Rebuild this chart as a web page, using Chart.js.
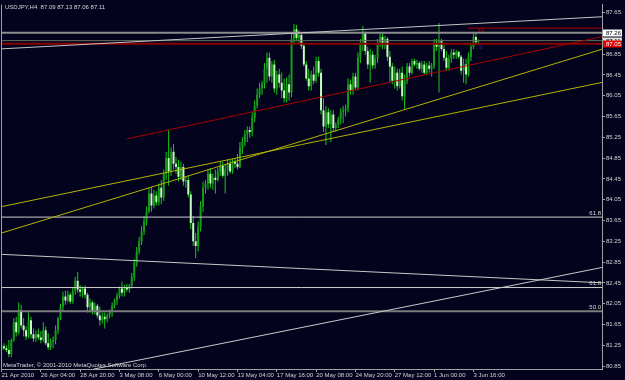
<!DOCTYPE html>
<html>
<head>
<meta charset="utf-8">
<script src="https://cdn.jsdelivr.net/npm/chart.js@4.4.1/dist/chart.umd.min.js"></script>
<style>
  html, body { margin: 0; padding: 0; background: #03031e; }
  #wrap { width: 625px; height: 380px; }
</style>
</head>
<body>
<div id="wrap"><canvas id="myChart" width="625" height="380"></canvas></div>
<script>
// USDJPY H4, bar 0 = 21 Apr 2010
const opens = [81.17,81.23,81.19,81.16,81.08,81.35,81.69,81.50,81.92,81.63,
  81.54,81.42,81.73,81.46,81.38,81.46,81.40,81.35,81.54,81.29,
  81.21,81.31,81.35,81.54,81.77,81.99,82.19,82.11,82.22,82.09,
  82.30,82.49,82.32,82.28,82.34,82.22,81.98,82.07,81.92,82.01,
  81.82,81.73,81.80,81.75,81.82,81.88,82.01,82.11,82.20,82.34,
  82.26,82.36,82.32,82.40,82.57,82.83,83.06,83.25,83.44,83.63,
  83.82,84.17,83.94,84.13,84.00,84.28,84.09,84.55,84.85,84.59,
  84.97,84.74,84.68,84.49,84.68,84.40,84.43,84.15,83.60,83.25,
  83.16,83.52,83.92,84.28,84.36,84.55,84.36,84.47,84.43,84.59,
  84.70,84.51,84.63,84.74,84.59,84.78,84.74,84.68,85.06,85.16,
  85.31,85.39,85.35,85.62,85.86,86.07,86.19,86.27,86.57,86.78,
  86.42,86.65,86.19,86.46,86.30,86.15,86.00,86.27,86.11,87.14,
  87.33,87.16,87.22,87.01,86.65,86.38,86.23,86.46,86.34,86.72,
  86.49,85.77,85.46,85.73,85.50,85.69,85.43,85.48,85.60,85.73,
  85.77,85.81,86.27,86.15,86.42,86.21,86.78,87.07,87.26,86.91,
  86.65,86.84,86.63,86.76,87.07,87.18,87.03,87.14,86.80,86.61,
  86.34,86.49,86.23,86.49,86.04,86.34,86.61,86.49,86.72,86.65,
  86.68,86.57,86.65,86.49,86.63,86.57,86.61,87.07,86.99,87.10,
  86.95,86.78,86.59,86.76,86.88,86.84,86.89,86.80,86.53,86.65,
  86.46,86.80,86.99,87.18,87.09];
const highs = [81.27,81.29,81.25,81.35,81.38,81.77,81.80,82.07,82.03,81.77,
  81.61,81.88,81.80,81.57,81.54,81.57,81.52,81.69,81.61,81.48,
  81.38,81.42,81.63,81.80,82.05,82.28,82.30,82.30,82.26,82.36,
  82.57,82.66,82.41,82.38,82.40,82.26,82.15,82.11,82.07,82.05,
  81.99,81.88,81.88,81.86,81.94,82.07,82.15,82.26,82.38,82.47,
  82.41,82.43,82.43,82.64,82.91,83.14,83.33,83.54,83.73,83.92,
  84.28,84.30,84.24,84.21,84.36,84.43,84.63,84.97,85.39,85.06,
  85.12,84.87,84.82,84.78,84.74,84.49,84.51,84.21,83.73,83.41,
  83.63,84.02,84.40,84.43,84.63,84.66,84.55,84.63,84.66,84.78,
  84.78,84.74,84.82,84.82,84.84,84.85,84.93,85.16,85.25,85.39,
  85.46,85.46,85.73,85.96,86.19,86.30,86.34,86.68,86.88,86.88,
  86.72,86.74,86.53,86.57,86.49,86.38,86.40,86.46,87.26,87.43,
  87.41,87.31,87.26,87.07,86.72,86.57,86.53,86.61,86.80,86.80,
  86.57,86.00,85.85,85.81,85.77,85.77,85.54,85.65,85.81,85.85,
  85.88,86.38,86.36,86.49,86.49,86.88,87.14,87.39,87.29,86.99,
  86.95,86.91,86.84,87.14,87.26,87.26,87.20,87.18,86.91,86.68,
  86.61,86.57,86.57,86.61,86.46,86.68,86.68,86.76,86.76,86.74,
  86.72,86.72,86.72,86.68,86.72,86.68,87.14,87.14,87.45,87.14,
  87.03,86.91,86.84,86.95,86.95,86.93,86.91,86.84,86.76,86.76,
  86.88,87.07,87.26,87.26,87.13];
const lows = [81.12,81.16,81.12,81.02,81.02,81.31,81.42,81.46,81.57,81.42,
  81.35,81.38,81.38,81.31,81.31,81.35,81.29,81.31,81.25,81.16,
  81.16,81.19,81.27,81.46,81.73,81.92,82.03,82.07,82.05,82.05,
  82.22,82.26,82.19,82.17,82.15,81.88,81.88,81.84,81.84,81.77,
  81.63,81.67,81.57,81.69,81.77,81.80,81.96,82.03,82.15,82.19,
  82.19,82.28,82.26,82.34,82.49,82.76,83.00,83.18,83.37,83.56,
  83.79,83.82,83.88,83.94,83.94,83.96,84.03,84.43,84.32,84.51,
  84.63,84.55,84.40,84.43,84.32,84.28,84.09,83.48,83.16,82.93,
  83.06,83.44,83.82,84.17,84.24,84.28,84.24,84.17,84.40,84.51,
  84.47,84.17,84.51,84.55,84.55,84.66,84.63,84.66,84.93,85.08,
  85.16,85.24,85.27,85.54,85.81,86.00,86.07,86.19,86.30,86.34,
  86.30,86.11,86.07,86.21,86.00,85.92,85.92,85.96,86.02,87.03,
  87.10,87.07,86.95,86.61,86.34,86.15,86.15,86.27,86.30,86.42,
  85.69,85.35,85.10,85.43,85.16,85.35,85.35,85.43,85.50,85.52,
  85.65,85.73,86.07,86.07,86.15,86.15,86.68,86.91,86.84,86.57,
  86.30,86.57,86.57,86.68,86.99,86.95,86.95,86.72,86.30,86.27,
  86.19,86.15,86.19,85.96,85.79,86.27,86.42,86.46,86.61,86.57,
  86.53,86.49,86.46,86.46,86.49,86.42,86.57,86.91,86.11,86.91,
  86.72,86.53,86.53,86.68,86.76,86.76,86.76,86.46,86.30,86.27,
  86.42,86.72,86.95,87.03,87.06];
const closes = [81.23,81.19,81.16,81.08,81.35,81.69,81.50,81.92,81.63,81.54,
  81.42,81.73,81.46,81.38,81.46,81.40,81.35,81.54,81.29,81.21,
  81.31,81.35,81.54,81.77,81.99,82.19,82.11,82.22,82.09,82.30,
  82.49,82.32,82.28,82.34,82.22,81.98,82.07,81.92,82.01,81.82,
  81.73,81.80,81.75,81.82,81.88,82.01,82.11,82.20,82.34,82.26,
  82.36,82.32,82.40,82.57,82.83,83.06,83.25,83.44,83.63,83.82,
  84.17,83.94,84.13,84.00,84.28,84.09,84.55,84.85,84.59,84.97,
  84.74,84.68,84.49,84.68,84.40,84.43,84.15,83.60,83.25,83.16,
  83.52,83.92,84.28,84.36,84.55,84.36,84.47,84.43,84.59,84.70,
  84.51,84.63,84.74,84.59,84.78,84.74,84.68,85.06,85.16,85.31,
  85.39,85.35,85.62,85.86,86.07,86.19,86.27,86.57,86.78,86.42,
  86.65,86.19,86.46,86.30,86.15,86.00,86.27,86.11,87.14,87.33,
  87.16,87.22,87.01,86.65,86.38,86.23,86.46,86.34,86.72,86.49,
  85.77,85.46,85.73,85.50,85.69,85.43,85.48,85.60,85.73,85.77,
  85.81,86.27,86.15,86.42,86.21,86.78,87.07,87.26,86.91,86.65,
  86.84,86.63,86.76,87.07,87.18,87.03,87.14,86.80,86.61,86.34,
  86.49,86.23,86.49,86.04,86.34,86.61,86.49,86.72,86.65,86.68,
  86.57,86.65,86.49,86.63,86.57,86.61,87.07,86.99,87.10,86.95,
  86.78,86.59,86.76,86.88,86.84,86.89,86.80,86.53,86.65,86.46,
  86.80,86.99,87.18,87.08,87.11];

const tickBars = [0, 16, 32, 48, 64, 80, 96, 112, 128, 144, 160, 176, 192];
const tickLabels = ['21 Apr 2010', '26 Apr 04:00', '28 Apr 20:00', '3 May 08:00', '6 May 00:00',
  '10 May 12:00', '13 May 04:00', '17 May 16:00', '20 May 08:00', '24 May 20:00',
  '27 May 12:00', '1 Jun 00:00', '3 Jun 16:00'];
const priceTicks = [80.85, 81.25, 81.65, 82.05, 82.45, 82.85, 83.25, 83.65, 84.05,
  84.45, 84.85, 85.25, 85.65, 86.05, 86.45, 86.85, 87.25, 87.65];

// trend lines, [bar, price] at each end
const trendStart = [[-0.61, 86.95], [-0.61, 83.40], [-0.61, 83.91], [51.06, 85.22], [-0.61, 83.00], [37.4, 80.79]];
const trendEnd = [[244.7, 87.57], [244.7, 86.95], [244.7, 86.31], [244.7, 87.19], [244.7, 82.45], [244.7, 82.75]];

// horizontal levels
const levelPrices = [87.26, 87.11, 87.05, 83.715, 82.36, 81.906];
const levelTags = ['', '', '', '61.8', '61.8', '50.0'];
const rayPrice = 87.35;
const rayStartBar = 189.8;
const boxPrices = [87.26, 87.11, 87.05];
const boxTexts = ['87.26', '87.11', '87.05'];

const titleText = 'USDJPY,H4  87.09 87.13 87.06 87.11';
const copyText = 'MetaTrader, \u00a9 2001-2010 MetaQuotes Software Corp.';

const trendColors = ['#c4c4c4', '#b4b400', '#b4b400', '#a80000', '#c8c8c8', '#c8c8c8'];
const levelColors = ['#8c8c8c', '#5e6e5e', '#8b0000', '#d0d0d0', '#d0d0d0', '#7c7c7c'];
const levelWidths = [2, 1, 2, 1, 1, 2];
const boxColors = ['#ffffff', '#e0e0e0', '#e00000'];
const boxTextColors = ['#000000', '#000000', '#ffffff'];

Chart.defaults.font.family = '"Liberation Sans", Arial, sans-serif';
Chart.defaults.font.size = 6;
Chart.defaults.color = '#d4d4d4';

const wickData = highs.map((h, i) => ({ x: i, y: [lows[i], h] }));
const bodyData = opens.map((o, i) => ({ x: i, y: [o, closes[i]] }));

let datasets = [];
trendStart.forEach((s, k) => {
    datasets.push({
        type: 'line',
        data: [{ x: s[0], y: s[1] }, { x: trendEnd[k][0], y: trendEnd[k][1] }],
        borderColor: trendColors[k],
        borderWidth: 1,
        pointRadius: 0,
        order: 0
    });
});
levelPrices.forEach((p, k) => {
    datasets.push({
        type: 'line',
        data: [{ x: -1, y: p }, { x: 246, y: p }],
        borderColor: levelColors[k],
        borderWidth: levelWidths[k],
        pointRadius: 0,
        order: 1
    });
});
datasets.push({
    type: 'line',
    data: [{ x: rayStartBar, y: rayPrice }, { x: 246, y: rayPrice }],
    borderColor: '#b00000',
    borderWidth: 1,
    pointRadius: 0,
    order: 0
});
datasets.push({
    type: 'bar',
    data: wickData,
    backgroundColor: '#19c819',
    barThickness: 1,
    grouped: false,
    inflateAmount: 0,
    order: 3
});
datasets.push({
    type: 'bar',
    data: bodyData,
    backgroundColor: (c) => closes[c.dataIndex] >= opens[c.dataIndex] ? '#179a17' : '#c4fcbc',
    barThickness: 2,
    grouped: false,
    inflateAmount: 0,
    order: 2
});

const bgPlugin = {
    id: 'bg',
    beforeDraw(chart) {
        const ctx = chart.ctx;
        ctx.save();
        ctx.fillStyle = '#03031e';
        ctx.fillRect(0, 0, chart.width, chart.height);
        ctx.restore();
    }
};

const overlayPlugin = {
    id: 'overlay',
    afterDraw(chart) {
        const ctx = chart.ctx, xs = chart.scales.x, ys = chart.scales.y, area = chart.chartArea;
        ctx.save();
        ctx.strokeStyle = '#a0a0a0';
        ctx.lineWidth = 1;
        ctx.beginPath();
        ctx.moveTo(area.left + 0.5, area.top);
        ctx.lineTo(area.left + 0.5, area.bottom);
        ctx.stroke();

        ctx.font = '6px "Liberation Sans", Arial, sans-serif';
        ctx.fillStyle = '#d8d8d8';
        ctx.textAlign = 'left';
        ctx.textBaseline = 'top';
        ctx.fillText(titleText, 5, 4);
        ctx.fillText(copyText, 3, 362);

        // fibo tags
        ctx.textAlign = 'right';
        ctx.textBaseline = 'bottom';
        levelPrices.forEach((p, k) => {
            if (!levelTags[k]) return;
            ctx.fillStyle = '#d8d8d8';
            ctx.fillText(levelTags[k], area.right - 1, ys.getPixelForValue(p) - 1);
        });

        ctx.textAlign = 'left';
        ctx.textBaseline = 'top';
        ctx.fillStyle = '#d00000';
        ctx.fillText('33', xs.getPixelForValue(193.5), ys.getPixelForValue(87.37));
        ctx.fillStyle = '#2020c0';
        ctx.fillText('9', xs.getPixelForValue(194.3), ys.getPixelForValue(87.03));

        // price boxes on the axis
        ctx.textBaseline = 'middle';
        boxPrices.forEach((p, k) => {
            const y = ys.getPixelForValue(p);
            ctx.fillStyle = boxColors[k];
            ctx.fillRect(area.right + 1, Math.round(y) - 3.5, 19, 7);
            ctx.fillStyle = boxTextColors[k];
            ctx.fillText(boxTexts[k], area.right + 4, y + 0.5);
        });
        ctx.restore();
    }
};

new Chart(document.getElementById('myChart'), {
    type: 'bar',
    data: { datasets: datasets },
    options: {
        responsive: false,
        animation: false,
        devicePixelRatio: 1,
        layout: { padding: { left: 1, top: 2, right: 0, bottom: 0 } },
        plugins: {
            legend: { display: false },
            tooltip: { enabled: false }
        },
        scales: {
            x: {
                type: 'linear',
                min: -0.2,
                max: 244.3,
                offset: false,
                grid: { display: true, offset: false, drawOnChartArea: false, drawTicks: true, tickLength: 3, color: '#a0a0a0' },
                border: { display: true, color: '#a0a0a0' },
                afterBuildTicks: (scale) => { scale.ticks = tickBars.map(v => ({ value: v })); },
                afterFit: (scale) => { scale.height = 11; },
                ticks: {
                    autoSkip: false,
                    maxRotation: 0,
                    align: 'start',
                    padding: 0,
                    color: '#d4d4d4',
                    callback: (value, index) => tickLabels[index]
                }
            },
            y: {
                type: 'linear',
                position: 'right',
                min: 80.793,
                max: 87.803,
                grid: { display: true, drawOnChartArea: false, drawTicks: true, tickLength: 3, color: '#a0a0a0' },
                border: { display: true, color: '#a0a0a0' },
                afterBuildTicks: (scale) => { scale.ticks = priceTicks.map(v => ({ value: v })); },
                afterFit: (scale) => { scale.width = 23; },
                ticks: {
                    autoSkip: false,
                    padding: 1,
                    color: '#d4d4d4',
                    callback: (value) => value.toFixed(2)
                }
            }
        }
    },
    plugins: [bgPlugin, overlayPlugin]
});
</script>
</body>
</html>
